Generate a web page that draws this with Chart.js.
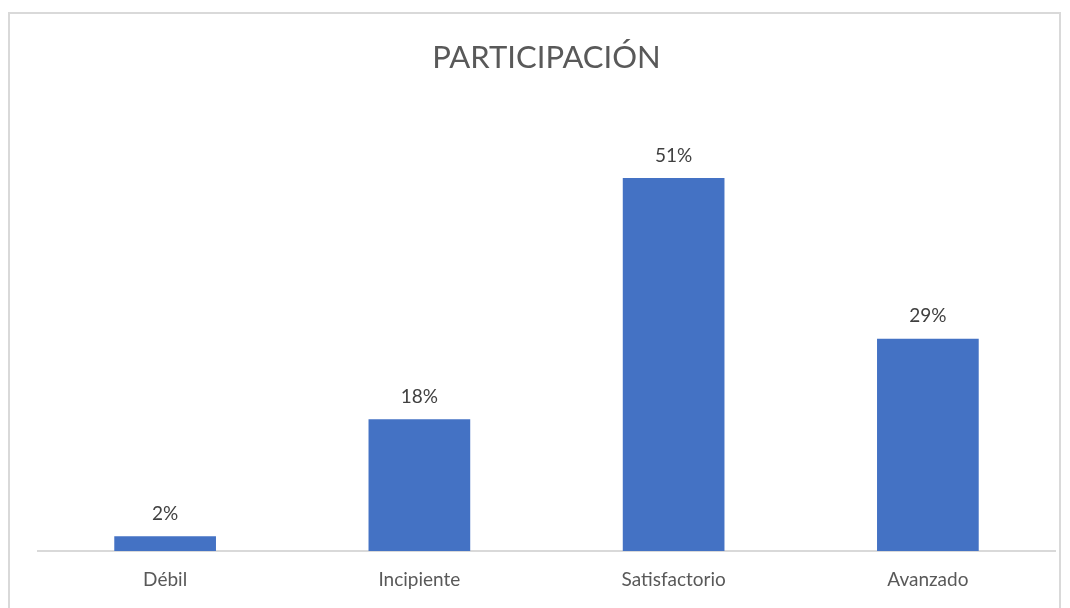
<!DOCTYPE html>
<html>
<head>
<meta charset="utf-8">
<script src="https://cdn.jsdelivr.net/npm/chart.js@4"></script>
<style>
  html, body { margin: 0; padding: 0; background: #fff; overflow: hidden; }
  #frame {
    position: absolute; left: 8px; top: 12px; width: 1053px; height: 620px;
    border: 2px solid #d9d9d9; box-sizing: border-box;
  }
  #chart { position: absolute; left: 0; top: 0; }
</style>
</head>
<body>
<div id="frame"></div>
<canvas id="chart" width="1070" height="608"></canvas>
<script>
const categories = ['Débil', 'Incipiente', 'Satisfactorio', 'Avanzado'];
const percentages = [2, 18, 51, 29];
const chartTitle = 'PARTICIPACIÓN';

// writes the value above each bar, like excel data labels
const barLabels = {
    id: 'barLabels',
    afterDatasetsDraw(chart) {
        const ctx = chart.ctx;
        const meta = chart.getDatasetMeta(0);
        ctx.save();
        ctx.font = '19px Lato';
        ctx.fillStyle = '#404040';
        ctx.textAlign = 'center';
        ctx.textBaseline = 'bottom';
        meta.data.forEach(function (bar, i) {
            ctx.fillText(percentages[i] + '%', bar.x, bar.y - 13);
        });
        ctx.restore();
    }
};

const ctx = document.getElementById('chart').getContext('2d');
new Chart(ctx, {
    type: 'bar',
    data: {
        labels: categories,
        datasets: [{
            data: percentages,
            backgroundColor: '#4472c4',
            categoryPercentage: 0.4,
            barPercentage: 1.0
        }]
    },
    options: {
        responsive: false,
        animation: false,
        layout: {
            padding: { left: 38, right: 15, top: 39, bottom: 0 }
        },
        plugins: {
            legend: { display: false },
            tooltip: { enabled: false },
            title: {
                display: true,
                text: chartTitle,
                color: '#595959',
                font: { family: 'Lato', size: 31, weight: 'normal' },
                padding: { top: 0, bottom: 36 }
            }
        },
        scales: {
            x: {
                grid: { display: false, drawTicks: false },
                border: { display: true, color: '#d9d9d9', width: 2 },
                ticks: {
                    color: '#595959',
                    font: { family: 'Lato', size: 19, lineHeight: 0.9 },
                    padding: 20
                }
            },
            y: {
                display: false,
                min: 0,
                max: 60
            }
        }
    },
    plugins: [barLabels]
});
</script>
</body>
</html>
